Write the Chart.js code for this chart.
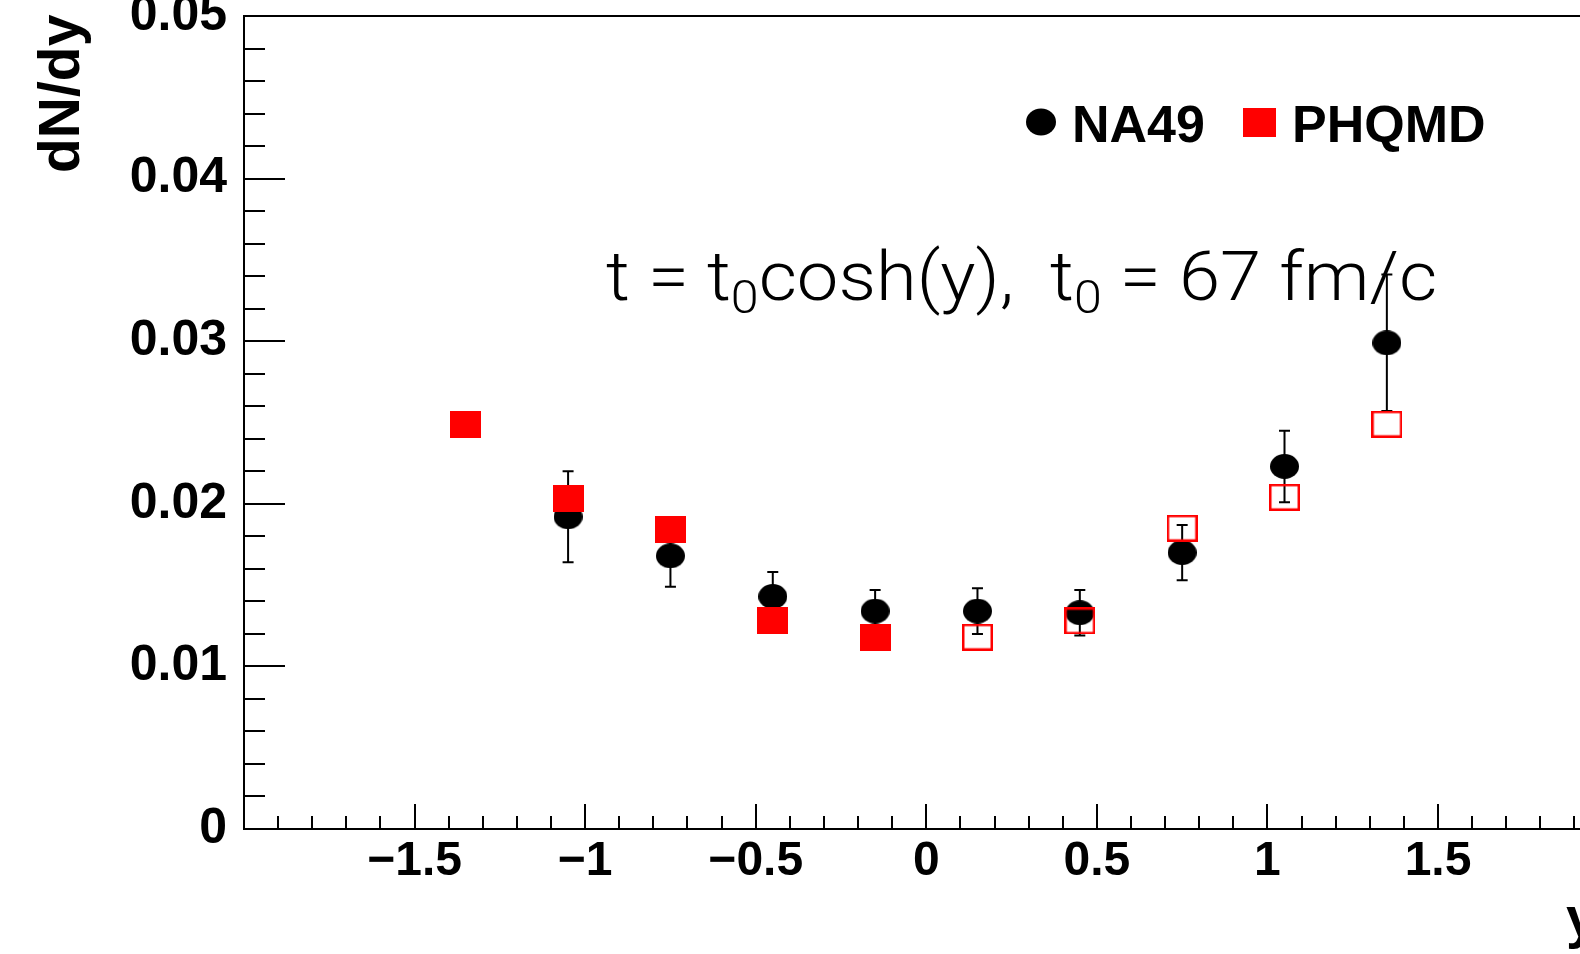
<!DOCTYPE html>
<html><head><meta charset="utf-8">
<script src="https://cdn.jsdelivr.net/npm/chart.js@4/dist/chart.umd.min.js"></script>
<style>
html,body{margin:0;padding:0;background:#fff;overflow:hidden;}
#wrap{width:1580px;height:954px;overflow:hidden;position:relative;background:#fff;}
canvas{display:block;}
</style></head><body>
<div id="wrap"><canvas id="c" width="1660" height="954"></canvas></div>
<script>
// ---- data ----
const phqmdRapidity = [-1.35, -1.05, -0.75, -0.45, -0.15, 0.15, 0.45, 0.75, 1.05, 1.35];
const phqmdDNdy     = [0.0249, 0.0203, 0.0184, 0.0128, 0.0118, 0.0118, 0.0128, 0.0185, 0.0204, 0.0249];
const na49Rapidity  = [-1.05, -0.75, -0.45, -0.15, 0.15, 0.45, 0.75, 1.05, 1.35];
const na49DNdy      = [0.0192, 0.0168, 0.0143, 0.0134, 0.0134, 0.0133, 0.0170, 0.0223, 0.0299];
const na49Err       = [0.0028, 0.0019, 0.0015, 0.0013, 0.0014, 0.0014, 0.0017, 0.0022, 0.0042];
const xTickValues   = [-1.5, -1, -0.5, 0, 0.5, 1, 1.5];
const yTickLabels   = ['0', '0.01', '0.02', '0.03', '0.04', '0.05'];
const legendLabels  = ['NA49', 'PHQMD'];
const xTitle = 'y';
const yTitle = 'dN/dy';

const FONT = "'Liberation Sans', Arial, Helvetica, sans-serif";
const RED = '#ff0000';

function ellipseMarker(w, h, color) {
  const c = document.createElement('canvas'); c.width = w; c.height = h;
  const g = c.getContext('2d'); g.fillStyle = color;
  g.beginPath(); g.ellipse(w/2, h/2, w/2, h/2, 0, 0, Math.PI*2); g.fill();
  return c;
}
function rectMarker(w, h, color, open) {
  const c = document.createElement('canvas'); c.width = w; c.height = h;
  const g = c.getContext('2d');
  if (open) { g.strokeStyle = color; g.lineWidth = 2.5; g.strokeRect(1.25, 1.25, w-2.5, h-2.5); }
  else { g.fillStyle = color; g.fillRect(0, 0, w, h); }
  return c;
}
const circleImg = ellipseMarker(29, 25, '#000');
const fullSq = rectMarker(31, 27, RED, false);
const openSq = rectMarker(31, 27, RED, true);

const phqmdNeg = phqmdRapidity.map((x,i)=>({x, y: phqmdDNdy[i]})).filter(p=>p.x<0);
const phqmdPos = phqmdRapidity.map((x,i)=>({x, y: phqmdDNdy[i]})).filter(p=>p.x>0);
const na49Pts = na49Rapidity.map((x,i)=>({x, y: na49DNdy[i]}));

const errorBars = {
  id: 'errorBars',
  beforeDatasetsDraw(chart) {
    const {ctx, scales:{x, y}} = chart;
    ctx.save(); ctx.strokeStyle = '#000'; ctx.lineWidth = 2;
    na49Rapidity.forEach((r,i)=>{
      const px = x.getPixelForValue(r);
      const t = y.getPixelForValue(na49DNdy[i] + na49Err[i]);
      const b = y.getPixelForValue(na49DNdy[i] - na49Err[i]);
      ctx.beginPath();
      ctx.moveTo(px, t); ctx.lineTo(px, b);
      ctx.moveTo(px-5.5, t); ctx.lineTo(px+5.5, t);
      ctx.moveTo(px-5.5, b); ctx.lineTo(px+5.5, b);
      ctx.stroke();
    });
    ctx.restore();
  }
};

const frameTicks = {
  id: 'frameTicks',
  afterDatasetsDraw(chart) {
    const {ctx, chartArea:a, scales:{x, y}} = chart;
    ctx.save(); ctx.strokeStyle = '#000'; ctx.lineWidth = 2;
    ctx.strokeRect(a.left, a.top, a.right-a.left, a.bottom-a.top);
    ctx.beginPath();
    for (let i = 0; i <= 25; i++) {
      const py = Math.round(y.getPixelForValue(i*0.002));
      const len = (i % 5 === 0) ? 41 : 21;
      ctx.moveTo(a.left, py); ctx.lineTo(a.left + len, py);
    }
    for (let i = -20; i <= 20; i++) {
      const px = Math.round(x.getPixelForValue(i*0.1));
      const len = (i % 5 === 0) ? 25 : 13;
      ctx.moveTo(px, a.bottom); ctx.lineTo(px, a.bottom - len);
    }
    ctx.stroke();
    ctx.restore();
  }
};

const annotations = {
  id: 'annotations',
  afterDraw(chart) {
    const ctx = chart.ctx;
    ctx.save();
    // legend
    ctx.fillStyle = '#000';
    ctx.beginPath(); ctx.ellipse(1041, 122, 15, 13.5, 0, 0, Math.PI*2); ctx.fill();
    ctx.fillStyle = RED; ctx.fillRect(1243, 108, 33, 29);
    ctx.fillStyle = '#000';
    ctx.font = 'bold 52px ' + FONT; ctx.textBaseline = 'alphabetic'; ctx.textAlign = 'left';
    ctx.fillText(legendLabels[0], 1072, 142);
    ctx.fillText(legendLabels[1], 1292, 142);
    // axis titles
    ctx.font = 'bold 57px ' + FONT;
    ctx.fillText(xTitle, 1566, 937);
    ctx.save(); ctx.translate(79, 173); ctx.rotate(-Math.PI/2);
    ctx.fillText(yTitle, 0, 0); ctx.restore();
    // formula (light font, widened to match the reference glyph width)
    const big = "300 68px Roboto, 'Open Sans', sans-serif";
    const small = "300 46px Roboto, 'Open Sans', sans-serif";
    const parts = [['t = t', big, 0], ['0', small, 13], ['cosh(y),  t', big, 0], ['0', small, 13], [' = 67 fm/c', big, 0]];
    ctx.save();
    ctx.translate(606, 300);
    ctx.scale(1.09, 1);
    let xx = 0;
    parts.forEach(([s, f, dy]) => { ctx.font = f; ctx.fillText(s, xx, dy); xx += ctx.measureText(s).width; });
    ctx.restore();
    ctx.restore();
  }
};

new Chart(document.getElementById('c'), {
  type: 'scatter',
  data: {
    datasets: [
      { label: 'PHQMD', data: phqmdNeg, pointStyle: fullSq, pointRadius: 16, borderWidth: 0 },
      { label: 'PHQMD (reflected)', data: phqmdPos, pointStyle: openSq, pointRadius: 16, borderWidth: 0 },
      { label: 'NA49', data: na49Pts, pointStyle: circleImg, pointRadius: 15, borderWidth: 0 }
    ]
  },
  options: {
    responsive: false, animation: false,
    layout: { padding: { left: 0, top: 12, right: 1660 - 1608.6, bottom: 0 } },
    plugins: { legend: { display: false }, tooltip: { enabled: false } },
    scales: {
      x: {
        type: 'linear', min: -2, max: 2,
        grid: { display: false, drawTicks: false, tickLength: 0 },
        border: { display: true, color: '#000', width: 2 },
        afterBuildTicks(s) { s.ticks = xTickValues.map(v => ({value: v})); },
        ticks: {
          autoSkip: false, maxRotation: 0, padding: 4, color: '#000',
          font: { family: FONT, weight: 'bold', size: 48 },
          callback: v => v < 0 ? '\u2212' + Math.abs(v) : String(v)
        },
        afterFit(s) { s.height = 954 - 829; s.paddingLeft = 0; s.paddingRight = 0; }
      },
      y: {
        type: 'linear', min: 0, max: 0.05,
        grid: { display: false, drawTicks: false, tickLength: 0 },
        border: { display: true, color: '#000', width: 2 },
        afterBuildTicks(s) { s.ticks = yTickLabels.map(t => ({value: parseFloat(t)})); },
        ticks: {
          padding: 17, color: '#000',
          font: { family: FONT, weight: 'bold', size: 50 },
          callback: (v, i) => yTickLabels[i]
        },
        afterFit(s) { s.width = 244; s.paddingTop = 0; s.paddingBottom = 0; }
      }
    }
  },
  plugins: [errorBars, frameTicks, annotations]
});
</script>
</body></html>
